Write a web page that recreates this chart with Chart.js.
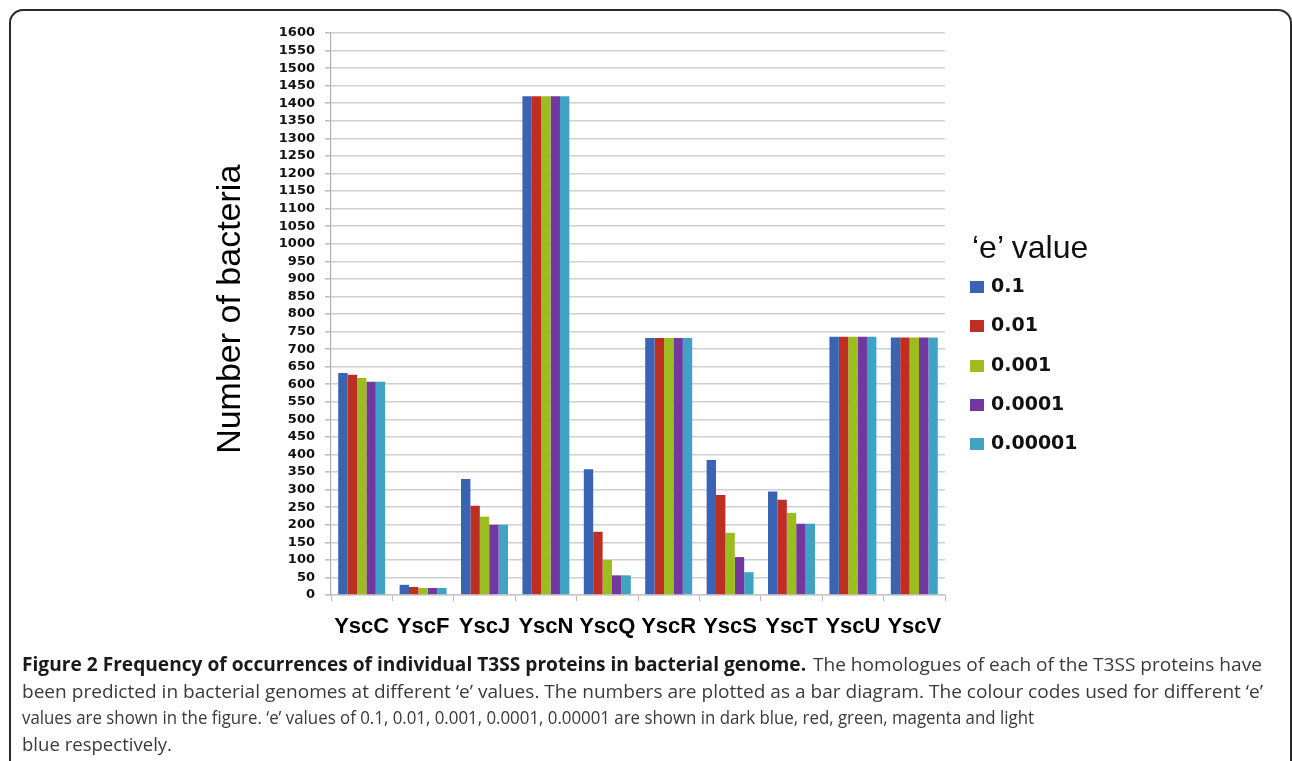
<!DOCTYPE html>
<html>
<head>
<meta charset="utf-8">
<script src="https://cdn.jsdelivr.net/npm/chart.js@4.4.1/dist/chart.umd.min.js"></script>
<style>
  html, body { margin: 0; padding: 0; background: #fff; }
  body { width: 1292px; height: 761px; position: relative; overflow: hidden; }
  #frame {
    position: absolute; left: 9px; top: 9px; width: 1283px; height: 800px;
    border: 2px solid #2b2b2b; border-radius: 14px; box-sizing: border-box;
  }
  #wrap { position: absolute; left: 0; top: 0; width: 1292px; height: 761px; }
  #legend { position: absolute; left: 970px; top: 228px; font-family: "Liberation Sans", Arial, sans-serif; }
  #legend .title { font-size: 32px; color: #111; line-height: 38px; white-space: nowrap; margin-left: 2px; }
  #legend .item { position: absolute; left: 0; height: 20px; white-space: nowrap; }
  #legend .sw { position: absolute; left: 0; top: 4px; width: 14px; height: 12px; }
  #legend .lbl { position: absolute; left: 21px; top: -3px; font-family: "DejaVu Sans", sans-serif; font-weight: bold; font-size: 19px; color: #111; }
  #caption { position: absolute; left: 0; top: 651px; font-family: "Open Sans", sans-serif; font-size: 19px; color: #3a3a3a; }
  #caption .seg { position: absolute; white-space: nowrap; transform-origin: 0 50%; }
  #caption .seg.b { font-weight: bold; color: #1a1a1a; }
</style>
</head>
<body>
<div id="frame"></div>
<div id="wrap"><canvas id="chart" width="1292" height="761"></canvas></div>
<div id="legend"></div>
<div id="caption"></div>
<script>
// Proteins on the category axis
const proteins = ['YscC', 'YscF', 'YscJ', 'YscN', 'YscQ', 'YscR', 'YscS', 'YscT', 'YscU', 'YscV'];

// Number of bacteria with a predicted homologue, one array per 'e' value cut-off
const eValueLabels = ['0.1', '0.01', '0.001', '0.0001', '0.00001'];
const counts_e1 = [632, 29, 330, 1420, 358, 732, 384, 295, 735, 733];
const counts_e2 = [627, 23, 254, 1420, 180, 732, 285, 271, 735, 733];
const counts_e3 = [618, 20, 223, 1420, 100, 732, 177, 234, 735, 733];
const counts_e4 = [607, 20, 200, 1420, 56, 732, 108, 203, 735, 733];
const counts_e5 = [607, 20, 200, 1420, 56, 732, 65, 203, 735, 733];

// Y axis range
const yMin = 0;
const yMax = 1600;
const yStep = 50;

const seriesColors = ['#3a63b3', '#bf2e22', '#9bbd1f', '#7238a0', '#40a3c4'];
const seriesValues = [counts_e1, counts_e2, counts_e3, counts_e4, counts_e5];

const datasets = seriesValues.map((vals, i) => ({
  label: eValueLabels[i],
  data: vals,
  backgroundColor: seriesColors[i],
  borderWidth: 0,
  categoryPercentage: 0.765,
  barPercentage: 1.0
}));

const chart = new Chart(document.getElementById('chart'), {
  type: 'bar',
  data: { labels: proteins, datasets },
  options: {
    responsive: false,
    animation: false,
    devicePixelRatio: 1,
    layout: { padding: { left: 190, right: 347, top: 33, bottom: 116 } },
    plugins: { legend: { display: false }, tooltip: { enabled: false } },
    scales: {
      x: {
        afterFit: s => { s.height = 50; },
        grid: { offset: true, drawOnChartArea: false, drawTicks: true, tickLength: 6, color: '#b8b8b8', lineWidth: 1 },
        border: { display: true, color: '#c8c8c8', width: 1.5 },
        ticks: {
          color: '#000',
          padding: 13,
          maxRotation: 0,
          autoSkip: false,
          font: { family: '"Liberation Sans", Arial, sans-serif', size: 22, weight: 'bold' }
        }
      },
      y: {
        min: yMin,
        max: yMax,
        afterFit: s => { s.width = 141; },
        grid: { color: '#d0d0d0', lineWidth: 1.6, drawTicks: true, tickLength: 6, tickColor: '#bdbdbd' },
        border: { display: true, color: '#b0b0b0', width: 1.2 },
        ticks: {
          stepSize: yStep,
          autoSkip: false,
          padding: 10,
          color: '#111',
          callback: v => String(v),
          font: { family: '"DejaVu Sans", sans-serif', size: 13, weight: 'bold' }
        },
        title: {
          display: true,
          text: ' Number of bacteria',
          color: '#000',
          padding: { top: 20, bottom: 0 },
          font: { family: '"Liberation Sans", Arial, sans-serif', size: 34, weight: 'normal', lineHeight: 1.2 }
        }
      }
    }
  }
});

// Legend built from the chart's own datasets
const legend = document.getElementById('legend');
const title = document.createElement('div');
title.className = 'title';
title.textContent = '\u2018e\u2019 value';
legend.appendChild(title);
chart.data.datasets.forEach((ds, i) => {
  const item = document.createElement('div');
  item.className = 'item';
  item.style.top = (49 + i * 39.3) + 'px';
  const sw = document.createElement('span');
  sw.className = 'sw';
  sw.style.background = ds.backgroundColor;
  const lbl = document.createElement('span');
  lbl.className = 'lbl';
  lbl.textContent = ds.label;
  item.appendChild(sw);
  item.appendChild(lbl);
  legend.appendChild(item);
});

// Figure caption. Body lines are squeezed into their column span; on the first
// line the plain run keeps the squeeze of the line below and sits flush right,
// and the bold lead-in fills the room left of it.
const captionLead = 'Figure 2 Frequency of occurrences of individual T3SS proteins in bacterial genome.';
const captionRest = 'The homologues of each of the T3SS proteins have';
const captionBody = [
  { x: 22, w: 1241, t: 'been predicted in bacterial genomes at different \u2018e\u2019 values. The numbers are plotted as a bar diagram. The colour codes used for different \u2018e\u2019' },
  { x: 22, w: 1012, t: 'values are shown in the figure. \u2018e\u2019 values of 0.1, 0.01, 0.001, 0.0001, 0.00001 are shown in dark blue, red, green, magenta and light' },
  { x: 22, w: 150, t: 'blue respectively.' }
];
const colLeft = 22, colRight = 1262, lineStep = 26.5;
const caption = document.getElementById('caption');
function addSeg(text, bold, row) {
  const s = document.createElement('span');
  s.className = 'seg' + (bold ? ' b' : '');
  s.style.top = (row * lineStep) + 'px';
  s.textContent = text;
  caption.appendChild(s);
  return [s, s.getBoundingClientRect().width];
}
let bodySqueeze = 1;
captionBody.forEach((ln, i) => {
  const [s, w] = addSeg(ln.t, false, i + 1);
  const k = ln.w / w;
  if (i === 0) bodySqueeze = k;
  s.style.left = ln.x + 'px';
  s.style.transform = 'scaleX(' + k + ')';
});
const [restEl, restW] = addSeg(captionRest, false, 0);
const restLeft = colRight - restW * bodySqueeze;
restEl.style.left = restLeft + 'px';
restEl.style.transform = 'scaleX(' + bodySqueeze + ')';
const [leadEl, leadW] = addSeg(captionLead, true, 0);
leadEl.style.left = colLeft + 'px';
leadEl.style.transform = 'scaleX(' + ((restLeft - 7 - colLeft) / leadW) + ')';
</script>
</body>
</html>
